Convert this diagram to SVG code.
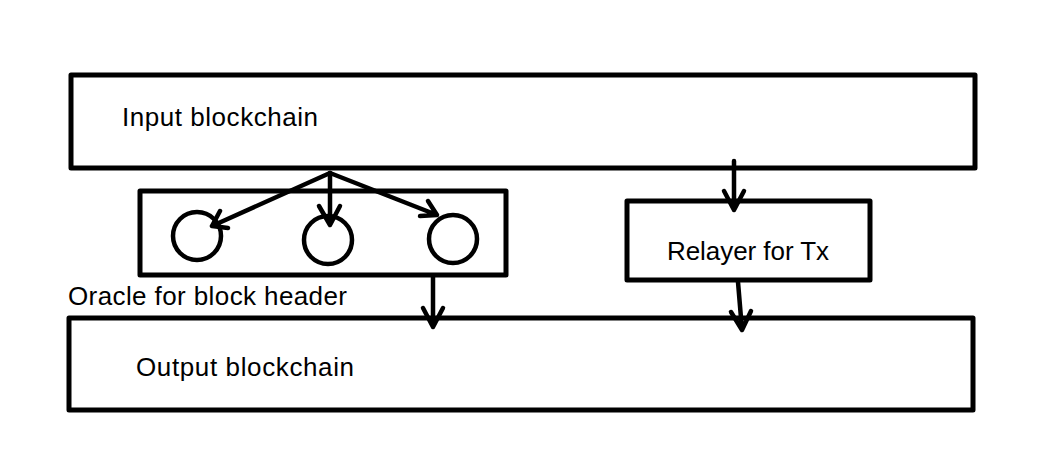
<svg xmlns="http://www.w3.org/2000/svg" width="1062" height="476" viewBox="0 0 1062 476">
<style>
.box{fill:none;stroke:#000;stroke-width:5;stroke-linejoin:round}
.ln{fill:none;stroke:#000;stroke-width:4.5;stroke-linecap:round;stroke-linejoin:round}
.t{font-family:"Liberation Sans",Arial,sans-serif;font-size:26px;fill:#000}
</style>
<rect width="1062" height="476" fill="#fff"/>
<g id="input"><rect class="box" x="71" y="75" width="904" height="93"/><text class="t" x="122" y="126" textLength="196">Input blockchain</text></g>
<g id="output"><rect class="box" x="69" y="318" width="904" height="92"/><text class="t" x="136" y="376" textLength="218">Output blockchain</text></g>
<g id="oracle"><rect class="box" x="140" y="191" width="366" height="84"/>
<circle class="ln" cx="197" cy="236" r="24"/><circle class="ln" cx="328" cy="240" r="24"/><circle class="ln" cx="453" cy="239" r="24"/>
<text class="t" x="68" y="305" textLength="279">Oracle for block header</text></g>
<g id="relayer"><rect class="box" x="627" y="201" width="243" height="79"/><text class="t" x="667" y="260" textLength="162">Relayer for Tx</text></g>
<g id="connectors">
<path class="ln" d="M330 173L212 226M220 211L212 226L228 228"/>
<path class="ln" d="M330 173V225M319 206L330 225L340 206"/>
<path class="ln" d="M330 173L437 215M420 216L437 215L428 201"/>
<path class="ln" d="M433 276V327M423 308L433 327L443 308"/>
<path class="ln" d="M734 161V210M724 191L734 210L744 191"/>
<path class="ln" d="M738 282L742 330M731 312L742 330L751 311"/>
</g>
</svg>
